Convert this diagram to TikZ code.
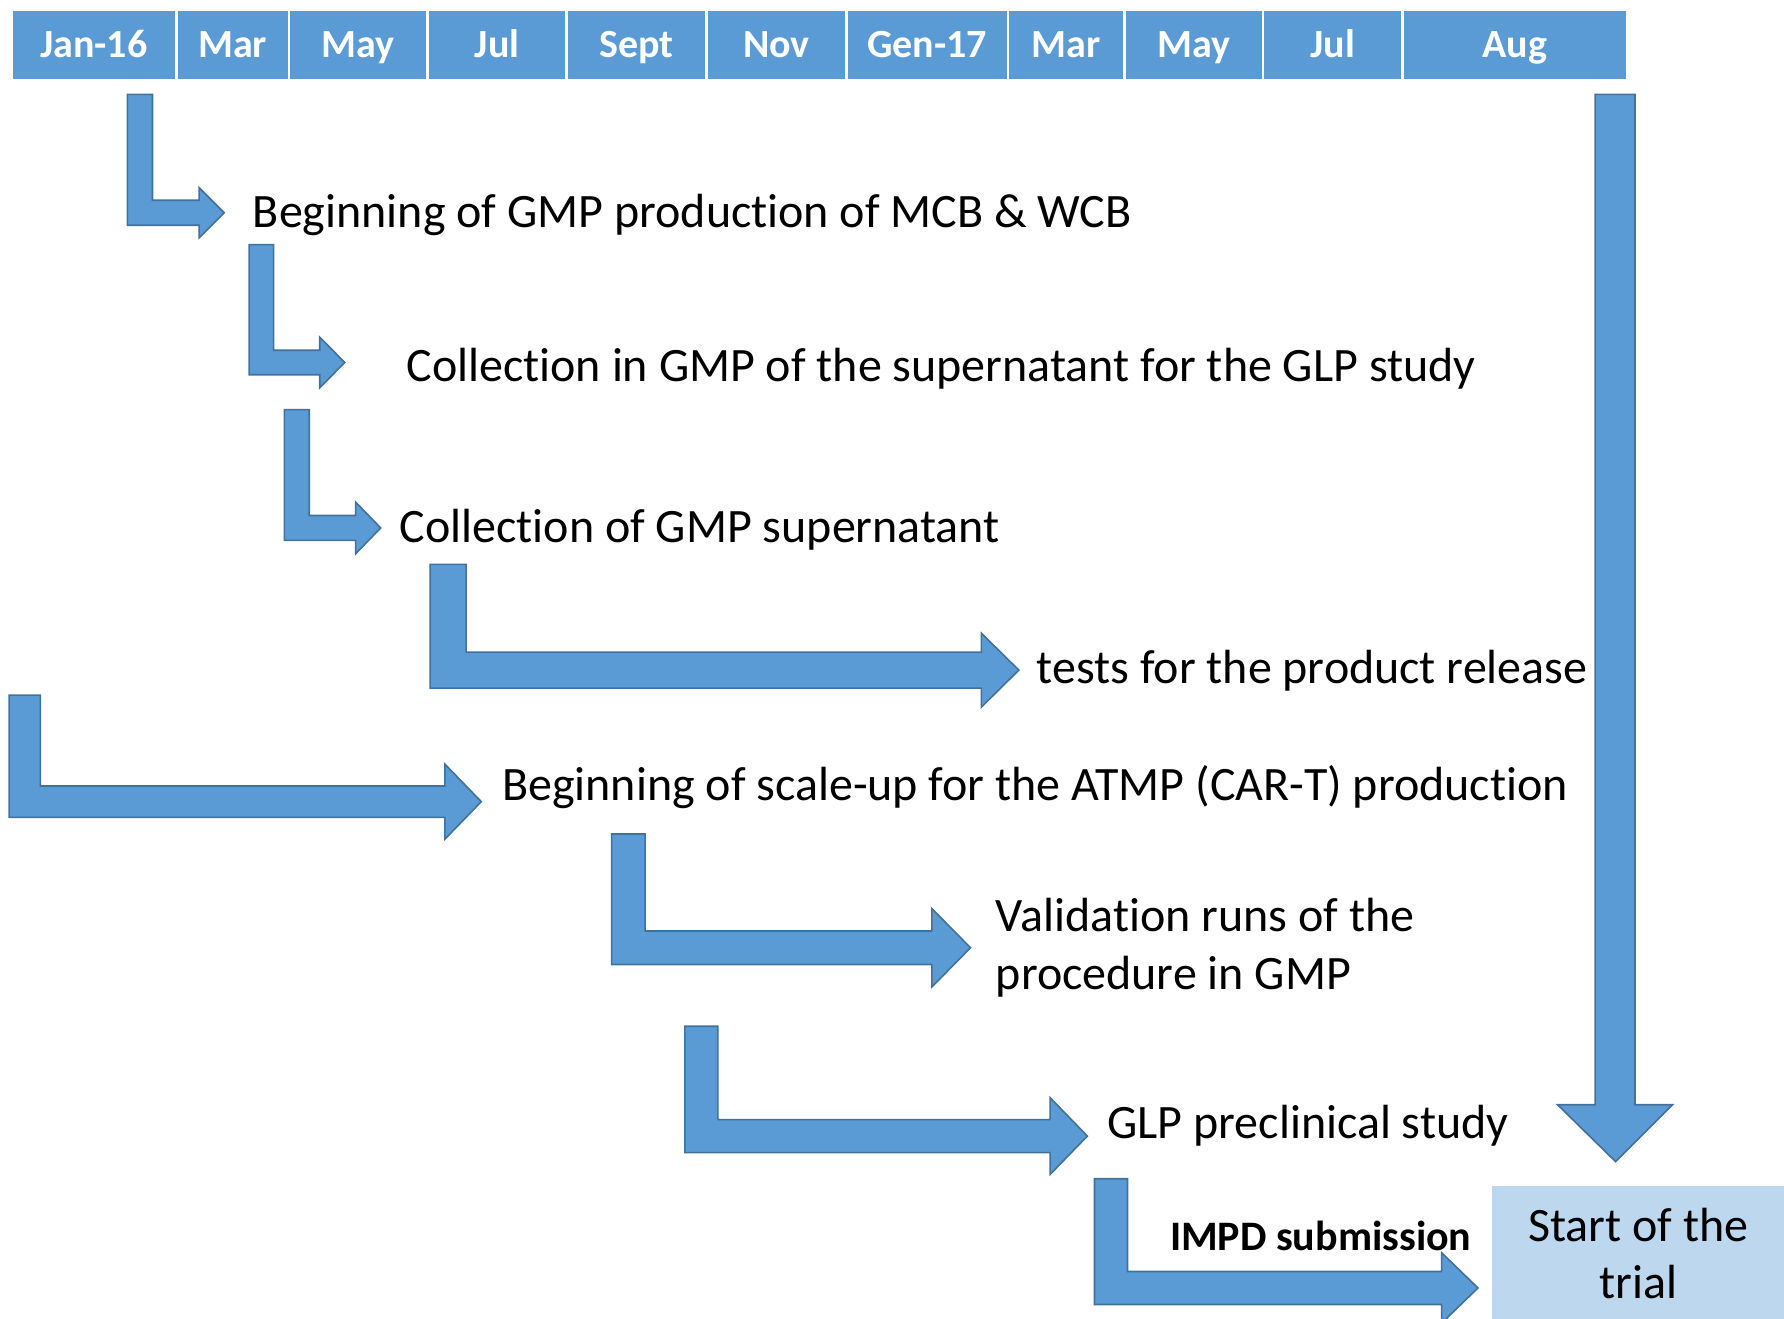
\documentclass[tikz,border=0pt]{standalone}
\usepackage{fontspec}
\setmainfont[Ligatures=NoCommon]{Carlito}
\usetikzlibrary{positioning}
\definecolor{barfill}{HTML}{5B9BD5}
\definecolor{baredge}{HTML}{41719C}
\definecolor{boxfill}{HTML}{BDD7EE}
\tikzset{
  barrow/.style={draw=baredge, fill=barfill, line width=0.8pt, line join=miter},
  month/.style={draw=white, fill=barfill, line width=1.4pt, text=white, inner sep=0pt,
    minimum height=12.6mm, text height=4.5mm, text depth=0pt,
    font=\fontsize{20}{24}\selectfont\bfseries},
  milestone/.style={anchor=base west, inner sep=0pt, font=\fontsize{24}{29}\selectfont},
  trialbox/.style={fill=boxfill, minimum width=51.6mm, minimum height=24mm, inner sep=0pt,
    align=center, font=\fontsize{24}{28.5}\selectfont}
}
% left x, top y, thickness, shaft y, head base x, head half, tip x
\newcommand{\bentarrow}[7]{%
  \draw[barrow] (#1,#2) -- ({#1+#3},#2) -- ({#1+#3},{#4-#3/2}) -- (#5,{#4-#3/2})
    -- (#5,{#4-#6}) -- (#7,#4) -- (#5,{#4+#6}) -- (#5,{#4+#3/2}) -- (#1,{#4+#3/2}) -- cycle;}

\begin{document}
\begin{tikzpicture}[x=0.2mm,y=-0.2mm]
  \useasboundingbox (0,0) rectangle (1568,1159);
  \foreach \xa/\xb/\mon [count=\i] in {10/155/Jan-16, 155/254/Mar, 254/376/May, 376/498/Jul,
      498/621/Sept, 621/744/Nov, 744/886/Gen-17, 886/988/Mar, 988/1110/May, 1110/1233/Jul,
      1233/1430/Aug}
    \node[month, minimum width={(\xb-\xa)*0.2mm}] (m\i) at ({(\xa+\xb)/2},39.5) {\mon};

  \bentarrow{112}{83}{22}{187}{175}{22}{197}
  \node[milestone] (gmpstart) at (222,200) {Beginning of GMP production of MCB \& WCB};

  \bentarrow{219}{215}{21.5}{318.6}{281}{22.3}{303}
  \node[milestone] (glpsup) at (357,335) {Collection in GMP of the supernatant for the GLP study};

  \bentarrow{250}{360}{21.8}{464}{312.6}{22.7}{334.6}
  \node[milestone] (gmpsup) at (351,477) {Collection of GMP supernatant};

  \bentarrow{378}{496}{31.7}{589}{862.5}{32.5}{895.5}
  \node[milestone] (release) at (911,601) {tests for the product release};

  \bentarrow{8}{611}{27.5}{704.6}{391}{33}{423}
  \node[milestone] (scaleup) at (441,704) {Beginning of scale-up for the ATMP (CAR-T) production};

  \bentarrow{537.5}{733}{29.5}{833}{819}{34.5}{853}
  \node[milestone, anchor=west, align=left] (validation) at (875,833)
    {Validation runs of the\\procedure in GMP};

  \bentarrow{602}{902}{29}{998.5}{923}{33.7}{955.7}
  \node[milestone] (preclin) at (973,1001) {GLP preclinical study};

  \bentarrow{962}{1036}{29}{1132}{1267}{31}{1299}
  \node[milestone, font=\fontsize{21}{25}\selectfont\bfseries] (impd) at (1028,1099) {IMPD submission};

  \draw[barrow] (1402,83) -- (1437,83) -- (1437,971) -- (1470,971) -- (1420,1021)
    -- (1369,971) -- (1402,971) -- cycle;
  \node[trialbox] (trial) at (1440,1102) {Start of the\\trial};
\end{tikzpicture}
\end{document}
